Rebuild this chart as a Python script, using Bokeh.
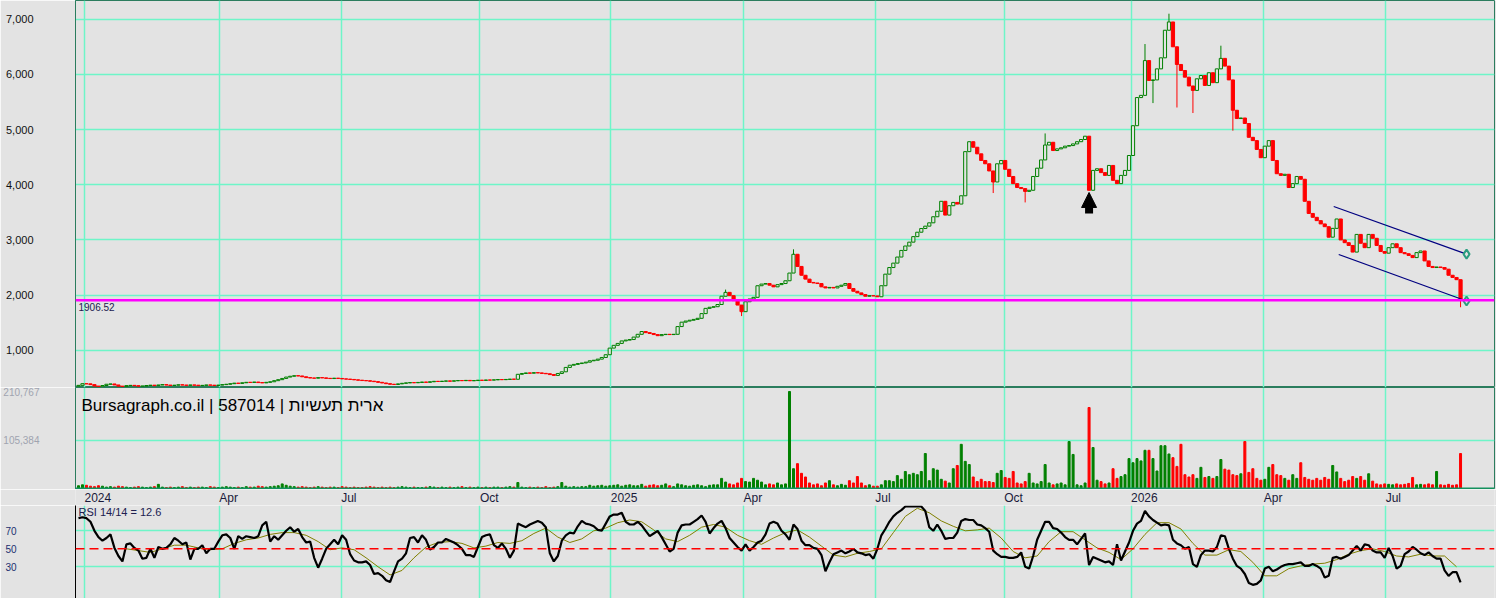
from bokeh.plotting import figure
from bokeh.layouts import column
from bokeh.models import (ColumnDataSource, Range1d, FixedTicker, NumeralTickFormatter,
                          Span, Arrow, NormalHead)
from bokeh.core.properties import value
from bokeh.embed import file_html
from bokeh.resources import INLINE

# ---------------- data (one candle per ~2 trading days) ----------------
close = [
    365, 395, 392, 378, 352, 340, 362, 385, 390, 372,
    350, 345, 360, 365, 358, 350, 352, 362, 368, 360,
    372, 378, 370, 362, 368, 375, 370, 365, 372, 368,
    360, 365, 372, 368, 362, 370, 378, 385, 395, 405,
    400, 412, 420, 418, 425, 415, 410, 420, 430, 450,
    468, 490, 515, 530, 540, 535, 520, 505, 498, 495,
    505, 500, 492, 488, 495, 490, 482, 478, 472, 465,
    458, 452, 448, 440, 432, 420, 408, 395, 385, 380,
    392, 402, 410, 415, 412, 418, 425, 420, 430, 438,
    435, 440, 445, 440, 448, 452, 450, 455, 448, 452,
    458, 455, 462, 460, 465, 470, 468, 472, 478, 475,
    565, 580, 590, 585, 595, 590, 582, 575, 560, 545,
    580, 610, 690, 730, 745, 760, 770, 785, 810, 820,
    840, 870, 920, 1040, 1090, 1125, 1170, 1185, 1195, 1240,
    1290, 1340, 1320, 1305, 1285, 1265, 1285, 1290, 1285, 1290,
    1430, 1510, 1530, 1545, 1560, 1580, 1665, 1760, 1780, 1790,
    1830, 1980, 2050, 1990, 1900, 1820, 1700, 1880, 1930, 1960,
    2170, 2200, 2210, 2180, 2150, 2190, 2210, 2260, 2400, 2740,
    2520, 2360, 2290, 2230, 2220, 2210, 2150, 2130, 2140, 2130,
    2160, 2180, 2210, 2120, 2070, 2040, 2010, 1980, 1990, 1985,
    1970, 2170, 2380, 2500, 2580, 2690, 2810, 2890, 2960, 3060,
    3140, 3207, 3250, 3310, 3420, 3520, 3700, 3450, 3620, 3680,
    3650, 3800, 4600, 4780, 4680, 4560, 4440, 4380, 4250, 4050,
    4380, 4440, 4280, 4150, 4020, 3950, 3930, 3880, 3900, 4150,
    4300, 4450, 4720, 4770, 4620, 4650, 4670, 4700, 4710, 4740,
    4780, 4820, 4880, 3900, 4260, 4290, 4220, 4170, 4350, 4080,
    4020, 4170, 4260, 4530, 5070, 5580, 5620, 6250, 5890, 5900,
    6100, 6300, 6800, 6950, 6500, 6180, 6070, 5950, 5790, 5710,
    5920, 5980, 5800, 6030, 5850, 6100, 6290, 6150, 5900, 5350,
    5200, 5210, 5110, 4860, 4800, 4640, 4490, 4700, 4800, 4440,
    4200, 4170, 4190, 3950, 4020, 4150, 4100, 3700, 3480, 3410,
    3350, 3290, 3240, 3050, 3210, 3380, 3000, 2950, 2900, 2780,
    3100, 2940, 2860, 3100, 3030, 2900, 2790, 2760, 2860, 2930,
    2860, 2770, 2750, 2720, 2680, 2770, 2800, 2620, 2520, 2500,
    2510, 2500, 2470, 2360, 2320, 2280, 1906.52,
]
first_open = 350

# notable wicks (candle index -> price)
wick_high = {162: 2100, 179: 2830, 242: 4930, 267: 6550, 273: 7100, 286: 6520}
wick_low = {166: 1620, 229: 3850, 237: 3680, 269: 5480, 275: 5400, 279: 5300,
            289: 4980, 346: 1780}

volume_k = [
    6, 8, 7, 5, 4, 6, 5, 3, 4, 3,
    5, 4, 3, 2, 3, 4, 3, 2, 3, 4,
    9, 3, 2, 3, 2, 3, 4, 2, 3, 2,
    3, 3, 2, 4, 3, 2, 3, 4, 3, 2,
    3, 2, 4, 3, 3, 5, 4, 3, 4, 5,
    6, 10, 7, 5, 4, 3, 4, 3, 2, 3,
    4, 3, 2, 3, 3, 2, 4, 3, 2, 3,
    2, 2, 3, 4, 3, 2, 3, 2, 3, 2,
    3, 4, 3, 2, 3, 2, 2, 3, 4, 3,
    2, 3, 2, 3, 2, 3, 4, 2, 3, 2,
    3, 2, 3, 2, 3, 3, 2, 3, 4, 3,
    13, 3, 2, 3, 2, 3, 2, 4, 2, 3,
    4, 13, 5, 3, 4, 3, 4, 4, 7, 5,
    6, 7, 5, 6, 7, 8, 5, 7, 8, 6,
    6, 9, 5, 7, 8, 6, 7, 10, 6, 4,
    10, 8, 6, 5, 7, 8, 6, 4, 7, 8,
    8, 22, 14, 10, 8, 12, 22, 15, 14, 22,
    18, 14, 8, 10, 8, 12, 8, 10, 210.767, 43,
    54, 33, 25, 12, 8, 10, 6, 12, 17, 8,
    6, 9, 7, 17, 12, 26, 12, 6, 8, 5,
    5, 8, 17, 17, 15, 28, 20, 37, 30, 33,
    30, 37, 76, 17, 43, 40, 20, 16, 12, 43,
    50, 96, 59, 52, 25, 15, 20, 15, 15, 13,
    33, 39, 24, 22, 37, 12, 10, 15, 33, 12,
    10, 15, 52, 12, 8, 10, 12, 8, 102, 74,
    8, 6, 12, 176, 89, 18, 15, 10, 12, 43,
    22, 26, 30, 65, 56, 65, 60, 83, 83, 65,
    38, 93, 93, 75, 67, 48, 96, 30, 25, 30,
    22, 46, 24, 26, 22, 26, 63, 42, 40, 30,
    28, 32, 102, 35, 43, 22, 18, 20, 46, 52,
    30, 28, 22, 18, 30, 22, 56, 24, 20, 18,
    22, 18, 24, 20, 50, 36, 22, 15, 18, 26,
    22, 26, 18, 32, 16, 10, 8, 10, 9, 8,
    10, 8, 9, 11, 24, 8, 9, 8, 10, 8,
    37, 8, 7, 9, 7, 8, 76,
]

rsi = [
    84, 85, 84, 80, 70, 63, 59, 62, 66, 51,
    42, 36, 55, 56, 51, 48, 39, 40, 50, 40,
    52, 50, 51, 55, 62, 59, 55, 57, 38, 50,
    50, 54, 45, 50, 50, 58, 65, 66, 62, 50,
    64, 61, 64, 63, 62, 64, 76, 80, 58, 64,
    60, 65, 70, 74, 69, 72, 63, 57, 58, 40,
    29, 39, 50, 55, 60, 55, 65, 60, 44, 37,
    35, 35, 36, 32, 22, 23, 20, 15, 13, 25,
    36, 39, 45, 62, 63, 57, 65, 60, 49, 52,
    57, 57, 61, 59, 57, 54, 50, 43, 43, 41,
    52, 63, 65, 66, 54, 51, 56, 50, 40, 48,
    78, 76, 74, 77, 79, 81, 79, 74, 45, 36,
    42, 59, 65, 68, 67, 75, 81, 78, 77, 75,
    71, 70, 78, 86, 88, 88, 90, 80, 77, 77,
    80, 76, 70, 64, 67, 70, 63, 55, 47, 50,
    68, 76, 77, 77, 80, 83, 87, 80, 67, 73,
    78, 81, 73, 62, 57, 52, 48, 55, 48, 52,
    57, 59, 66, 78, 80, 78, 70, 66, 60, 77,
    72, 59, 54, 54, 51, 50, 43, 25, 35, 44,
    46, 48, 45, 47, 50, 46, 45, 43, 44, 39,
    50, 65, 72, 80, 86, 90, 93, 97, 97, 97,
    97, 97, 92, 74, 70, 77, 70, 61, 62, 62,
    68, 81, 83, 82, 82, 77, 76, 73, 69, 48,
    44, 41, 41, 40, 40, 41, 46, 30, 28, 42,
    60, 70, 80, 80, 73, 72, 68, 63, 60, 60,
    55, 61, 67, 32, 41, 39, 37, 35, 36, 32,
    55, 37, 47, 57, 70, 78, 81, 92, 86, 82,
    79, 76, 77, 76, 60, 56, 54, 50, 52, 33,
    30, 43, 48, 48, 47, 52, 65, 64, 50, 39,
    31, 28, 22, 12, 10, 11, 15, 28, 30, 25,
    27, 30, 32, 33, 33, 34, 35, 31, 31, 33,
    31, 28, 18, 20, 40, 41, 39, 41, 43, 48,
    53, 48, 55, 54, 48, 46, 46, 40, 51, 42,
    28, 31, 44, 47, 52, 49, 45, 43, 46, 42,
    39, 39, 26, 20, 24, 24, 12.6,
]

# RSI signal line, sampled every 3rd candle starting at candle 12
rsi_signal = [
    50, 48, 46, 50, 54, 54, 51, 49, 50, 56,
    60, 62, 66, 68, 68, 65, 58, 49, 51, 49,
    40, 30, 21, 26, 40, 52, 57, 58, 56, 51,
    53, 57, 56, 59, 67, 73, 63, 57, 61, 70,
    73, 79, 82, 80, 71, 61, 58, 65, 74, 77,
    74, 65, 59, 55, 62, 68, 71, 63, 53, 43,
    41, 45, 47, 50, 68, 86, 95, 90, 81, 75,
    70, 71, 73, 62, 47, 40, 42, 58, 69, 69,
    60, 51, 46, 38, 50, 66, 79, 79, 72, 56,
    43, 43, 49, 47, 35, 20, 20, 28, 31, 33,
    34, 38, 44, 48, 50, 47, 42, 41, 44, 42,
    42, 30,
]
signal_start, signal_step = 12, 3

quarter_labels = ["2024", "Apr", "Jul", "Oct", "2025", "Apr", "Jul", "Oct", "2026", "Apr", "Jul"]
quarter_idx = [1.5, 35.25, 65.75, 100.5, 133.25, 166.5, 199.5, 231.75, 263.5, 296.75, 327.25]

price_ticks = [1000, 2000, 3000, 4000, 5000, 6000, 7000]
volume_ticks = [105384, 210767]
rsi_ticks = [30, 50, 70]

# drawn trend channel (candle index, price)
channel_upper_x = [314.25, 347.5]
channel_upper_y = [3606, 2742]
channel_lower_x = [315.5, 347.5]
channel_lower_y = [2736, 1894]

# gap marker arrow
arrow_idx = 253
arrow_from, arrow_to = 3479, 3860

title_text = "Bursagraph.co.il | 587014 | ארית תעשיות"

# ---------------- styles ----------------
BG = "#E3E3E3"
GRID = "#6EF5C8"
GREEN = "#008000"
RED = "#FF0000"
FRAME = "#2B7D5E"
FONT = value("Liberation Sans")
W = 1496
LEFT, RIGHT = 73, 2

n = len(close)
idx = list(range(n))
opn = [first_open] + close[:-1]
high = [max(o, c) for o, c in zip(opn, close)]
low = [min(o, c) for o, c in zip(opn, close)]
for k, v in wick_high.items():
    high[k] = max(high[k], v)
for k, v in wick_low.items():
    low[k] = min(low[k], v)
up = [c >= o for o, c in zip(opn, close)]
colors = [GREEN if u else RED for u in up]

src_all = ColumnDataSource(dict(x=idx, high=high, low=low, color=colors,
                                vol=[v * 1000 for v in volume_k]))
src_up = ColumnDataSource(dict(
    x=[i for i in idx if up[i]],
    top=[max(opn[i], close[i]) for i in idx if up[i]],
    bottom=[min(opn[i], close[i]) for i in idx if up[i]]))
src_dn = ColumnDataSource(dict(
    x=[i for i in idx if not up[i]],
    top=[max(opn[i], close[i]) for i in idx if not up[i]],
    bottom=[min(opn[i], close[i]) for i in idx if not up[i]]))

xr = Range1d(-0.75, 354.5)


def base_fig(height, y_range):
    p = figure(width=W, height=height, x_range=xr, y_range=y_range,
               x_axis_location=None, y_axis_location="left",
               toolbar_location=None, output_backend="svg",
               min_border_left=LEFT, min_border_right=RIGHT,
               min_border_top=0, min_border_bottom=0,
               background_fill_color=BG, border_fill_color=BG)
    p.xgrid.ticker = FixedTicker(ticks=quarter_idx)
    p.xgrid.grid_line_color = GRID
    p.xgrid.grid_line_width = 1.5
    p.ygrid.grid_line_color = GRID
    p.ygrid.grid_line_width = 1.5
    p.yaxis.major_tick_line_color = None
    p.yaxis.minor_tick_line_color = None
    p.yaxis.major_tick_out = 0
    p.yaxis.major_label_text_font = "Liberation Sans"
    return p


# ---------------- price panel ----------------
pp = base_fig(387, Range1d(326, 7339))
pp.outline_line_color = FRAME
pp.yaxis.ticker = FixedTicker(ticks=price_ticks)
pp.ygrid.ticker = FixedTicker(ticks=price_ticks)
pp.yaxis.formatter = NumeralTickFormatter(format="0,0")
pp.yaxis.axis_line_color = FRAME
pp.yaxis.major_label_text_font_size = "11px"
pp.yaxis.major_label_text_color = "#111111"
pp.yaxis.major_label_standoff = 42

pp.add_layout(Span(location=close[-1], dimension="width", line_color="#FF00FF", line_width=2.5))
pp.text(x=[0], y=[close[-1]], text=["%.2f" % close[-1]], text_font=FONT,
        text_font_size="10px", text_color="#202050", text_baseline="top", y_offset=3)

pp.segment(x0="x", y0="low", x1="x", y1="high", line_color="color", line_width=1, source=src_all)
pp.vbar(x="x", top="top", bottom="bottom", width=0.8, fill_color=BG, line_color=GREEN,
        line_width=1, source=src_up)
pp.vbar(x="x", top="top", bottom="bottom", width=0.8, fill_color=RED, line_color=RED,
        line_width=1, source=src_dn)

pp.line(channel_upper_x, channel_upper_y, line_color="#000080", line_width=1.2)
pp.line(channel_lower_x, channel_lower_y, line_color="#000080", line_width=1.2)
pp.scatter([channel_upper_x[-1], channel_lower_x[-1]], [channel_upper_y[-1], channel_lower_y[-1]],
           marker="diamond", size=9, fill_color=BG, line_color="#2A9D7F", line_width=2)

pp.add_layout(Arrow(end=NormalHead(size=15, fill_color="black", line_color="black"),
                    x_start=arrow_idx, y_start=arrow_from, x_end=arrow_idx, y_end=arrow_to,
                    line_width=8, line_color="black"))

# ---------------- volume panel ----------------
pv = base_fig(102, Range1d(-2173, 219460))
pv.outline_line_color = FRAME
pv.yaxis.ticker = FixedTicker(ticks=volume_ticks)
pv.ygrid.ticker = FixedTicker(ticks=volume_ticks[:1])
pv.yaxis.formatter = NumeralTickFormatter(format="0,0")
pv.yaxis.axis_line_color = FRAME
pv.yaxis.major_label_text_font_size = "10px"
pv.yaxis.major_label_text_color = "#A0A4B0"
pv.yaxis.major_label_standoff = 36
pv.vbar(x="x", top="vol", bottom=0, width=0.5, color="color", source=src_all)
pv.add_layout(Span(location=-1000, dimension="width", line_color="#14915E", line_width=3))
pv.text(x=[0.75], y=[180000], text=[title_text], text_font=FONT, text_font_size="17px",
        text_color="#000000", text_baseline="middle", text_align="left")

# ---------------- date labels band ----------------
pd_ = figure(width=W, height=16, x_range=xr, y_range=Range1d(0, 1),
             x_axis_location=None, y_axis_location=None, toolbar_location=None,
             output_backend="svg", min_border_left=LEFT, min_border_right=RIGHT,
             min_border_top=0, min_border_bottom=0, outline_line_color=None,
             background_fill_color=BG, border_fill_color=BG)
pd_.grid.visible = False
pd_.text(x=quarter_idx, y=[0.5] * len(quarter_idx), text=quarter_labels, text_font=FONT,
         text_font_size="12px", text_color="#1A1A3A", text_align="left",
         text_baseline="middle", x_offset=0)

# ---------------- RSI panel ----------------
pr = base_fig(93, Range1d(-5.2, 98.1))
pr.outline_line_color = None
pr.yaxis.ticker = FixedTicker(ticks=rsi_ticks)
pr.ygrid.ticker = FixedTicker(ticks=[30, 70])
pr.yaxis.axis_line_color = "black"
pr.yaxis.major_label_text_font_size = "10px"
pr.yaxis.major_label_text_color = "#203070"
pr.yaxis.major_label_standoff = 59
pr.add_layout(Span(location=50, dimension="width", line_color=RED, line_width=1.5,
                   line_dash="9 5"))
sig_x = [signal_start + signal_step * k for k in range(len(rsi_signal))]
pr.line(sig_x, rsi_signal, line_color="#808000", line_width=1)
pr.line(idx, rsi, line_color="black", line_width=2.2)
pr.text(x=[0], y=[97.5], text=["RSI 14/14 = %.1f" % rsi[-1]], text_font=FONT,
        text_font_size="11px", text_color="#202050", text_baseline="top")

layout = column(pp, pv, pd_, pr, spacing=0)
open("out.html", "w").write(file_html(layout, INLINE))
